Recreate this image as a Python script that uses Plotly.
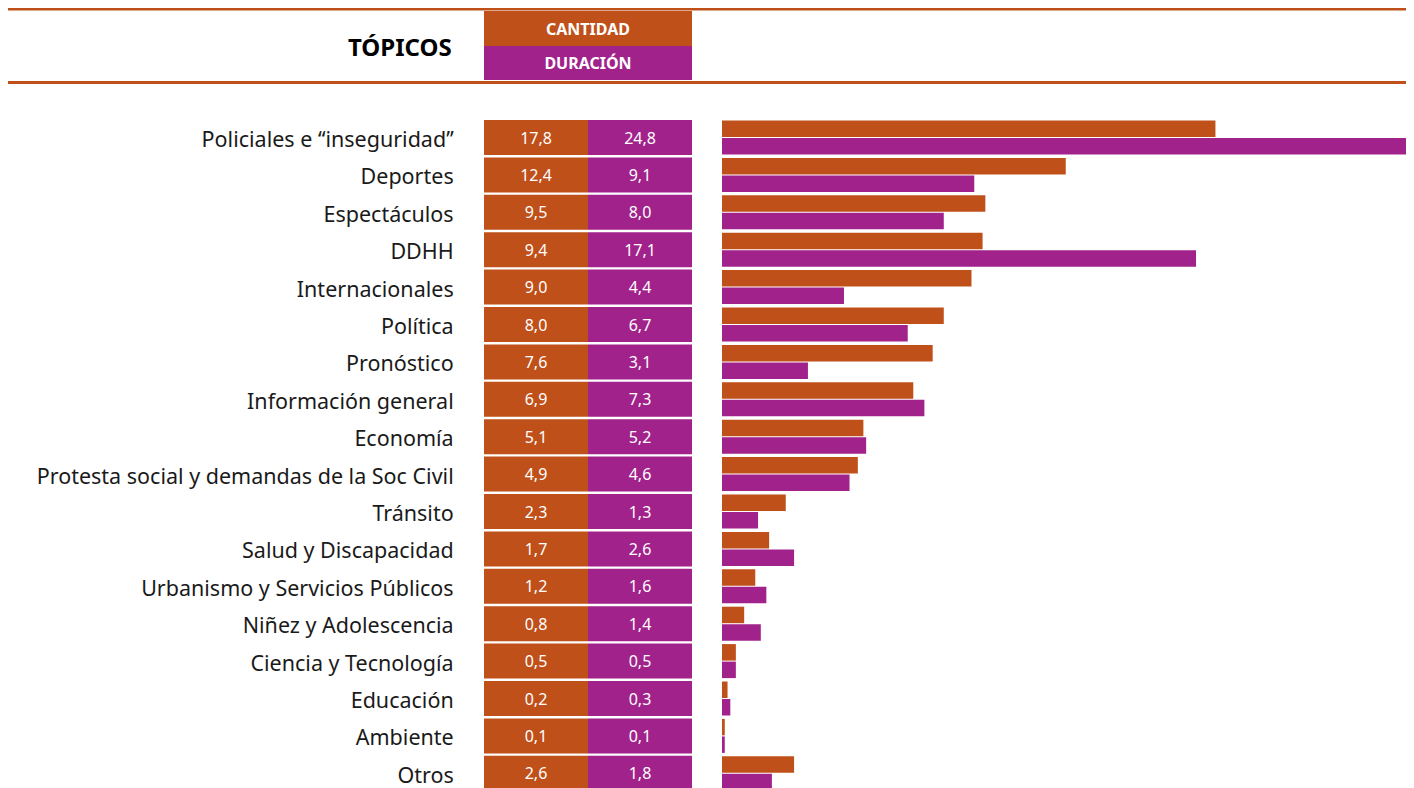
import plotly.graph_objects as go

topicos = [
    "Policiales e ‘‘inseguridad’’", "Deportes", "Espectáculos", "DDHH",
    "Internacionales", "Política", "Pronóstico", "Información general",
    "Economía", "Protesta social y demandas de la Soc Civil", "Tránsito",
    "Salud y Discapacidad", "Urbanismo y Servicios Públicos",
    "Niñez y Adolescencia", "Ciencia y Tecnología", "Educación",
    "Ambiente", "Otros",
]
cantidad = [17.8, 12.4, 9.5, 9.4, 9.0, 8.0, 7.6, 6.9, 5.1, 4.9, 2.3, 1.7, 1.2, 0.8, 0.5, 0.2, 0.1, 2.6]
duracion = [24.8, 9.1, 8.0, 17.1, 4.4, 6.7, 3.1, 7.3, 5.2, 4.6, 1.3, 2.6, 1.6, 1.4, 0.5, 0.3, 0.1, 1.8]
header_title = "TÓPICOS"
header_labels = ["CANTIDAD", "DURACIÓN"]

ORANGE = "#BF501A"
PURPLE = "#A1228B"
FONT = "Noto Sans"
# page body has an 8px margin: figure is placed at (8, 8) in the window
OFF = 8
W, H = 1414 - OFF, 788 - OFF

ROW_PITCH = 37.4          # px per category row
TOP_EDGE = 118.8          # px, top of first row slot
CELL_W = 0.936            # fraction of a row used by cells / bar groups


def px(x):
    return (x - OFF) / W


def py(y):
    return 1 - (y - OFF) / H


def fmt(v):
    return f"{v:.1f}".replace(".", ",")


n_visible = (788 - TOP_EDGE) / ROW_PITCH  # rows visible (last one clipped)

fig = go.Figure()

# Table cells (on x2)
for vals, base, color in ((cantidad, 0, ORANGE), (duracion, 1, PURPLE)):
    fig.add_trace(go.Bar(
        y=topicos, x=[1] * len(topicos), base=base, orientation="h",
        xaxis="x2", yaxis="y", marker=dict(color=color, line=dict(width=0)),
        text=[fmt(v) for v in vals], textposition="inside",
        insidetextanchor="middle", textangle=0,
        textfont=dict(family=FONT, size=16, color="white"),
        width=CELL_W, offset=-CELL_W / 2, hoverinfo="skip", showlegend=False,
    ))

# Bars
fig.add_trace(go.Bar(
    y=topicos, x=cantidad, orientation="h", name=header_labels[0],
    xaxis="x", yaxis="y", marker=dict(color=ORANGE, line=dict(width=0)),
    showlegend=False,
))
fig.add_trace(go.Bar(
    y=topicos, x=duracion, orientation="h", name=header_labels[1],
    xaxis="x", yaxis="y", marker=dict(color=PURPLE, line=dict(width=0)),
    showlegend=False,
))

fig.update_layout(
    width=W, height=H,
    margin=dict(l=0, r=0, t=0, b=0),
    paper_bgcolor="white", plot_bgcolor="white",
    barmode="group", bargap=1 - CELL_W, bargroupgap=0.057,
    font=dict(family=FONT, color="black"),
    xaxis=dict(domain=[px(722), px(1407)], range=[0, 24.71],
               visible=False, fixedrange=True),
    xaxis2=dict(domain=[px(484), px(692)], range=[0, 2], visible=False),
    yaxis=dict(domain=[0, py(TOP_EDGE)], anchor="x2",
               categoryorder="array", categoryarray=topicos,
               range=[n_visible - 0.5, -0.5],
               showgrid=False, zeroline=False,
               showline=False, ticks="outside", ticklen=25,
               tickcolor="rgba(0,0,0,0)", ticklabelshift=-2,
               tickfont=dict(family=FONT, size=21.5, color="#1a1a1a")),
    shapes=[
        dict(type="line", xref="paper", yref="paper", x0=px(8), x1=px(1407),
             y0=py(9), y1=py(9), line=dict(color=ORANGE, width=3)),
        dict(type="line", xref="paper", yref="paper", x0=px(8), x1=px(1407),
             y0=py(82.5), y1=py(82.5), line=dict(color=ORANGE, width=3)),
    ],
    annotations=[
        dict(text=f"<b>{header_title}</b>", xref="paper", yref="paper",
             x=px(454), y=py(46), xanchor="right", yanchor="middle",
             showarrow=False, font=dict(family=FONT, size=24, color="black")),
        dict(text=f"<b>{header_labels[0]}</b>", xref="paper", yref="paper",
             x=px(588), y=py(28.5), xanchor="center", yanchor="middle",
             width=208, height=35, bgcolor=ORANGE, borderpad=0, borderwidth=0,
             showarrow=False, font=dict(family=FONT, size=16, color="white")),
        dict(text=f"<b>{header_labels[1]}</b>", xref="paper", yref="paper",
             x=px(588), y=py(63), xanchor="center", yanchor="middle",
             width=208, height=34, bgcolor=PURPLE, borderpad=0, borderwidth=0,
             showarrow=False, font=dict(family=FONT, size=16, color="white")),
    ],
)

fig.write_html("out.html")
